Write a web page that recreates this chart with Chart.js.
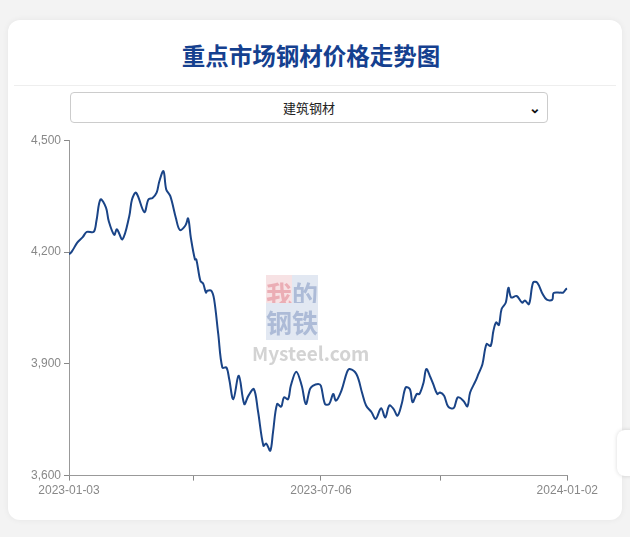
<!DOCTYPE html>
<html><head><meta charset="utf-8">
<script src="https://cdn.jsdelivr.net/npm/chart.js@4/dist/chart.umd.min.js"></script>
<style>
body{margin:0;background:#f3f3f3;font-family:"Noto Sans CJK SC","Noto Sans",sans-serif;width:630px;height:537px;overflow:hidden;position:relative}
#card{position:absolute;left:8px;top:20px;width:614px;height:500px;background:#fff;border-radius:12px;box-shadow:0 0 6px rgba(0,0,0,0.06)}
#title{position:absolute;left:0;width:606px;top:18px;text-align:center;font-size:23.5px;font-weight:bold;color:#15408f}
#sep{position:absolute;left:6px;right:6px;top:65px;border-top:1px solid #eee}
#sel{position:absolute;left:62px;top:72px;width:476px;height:29px;border:1px solid #ccc;border-radius:4px;font-size:13px;color:#222;text-align:center;line-height:29px}
#sel span{position:absolute;right:6px;top:0;font-size:14px;font-weight:bold;color:#111}
#wrap{position:absolute;left:20px;top:110px;width:573px;height:371px}
#wm{position:absolute;left:266px;top:280px;color:#ccc;font-size:26px;line-height:28px;font-weight:bold;opacity:0.85}
#side{position:absolute;left:617px;top:430px;width:20px;height:46px;background:#fff;border-radius:8px;box-shadow:0 0 4px rgba(0,0,0,0.15)}
</style></head><body>
<div id="card"><div id="title">重点市场钢材价格走势图</div><div id="sep"></div>
<div id="sel">建筑钢材<span>&#x2304;</span></div>
<div id="wrap"><canvas id="c"></canvas></div></div>
<div id="wm"><span style="color:#e8a0a8;background:#f6dde0">我</span><span style="color:#9fb0d0;background:#dde4f0">的</span><br><span style="color:#9fb0d0;background:#dde4f0">钢</span><span style="color:#9fb0d0;background:#dde4f0">铁</span><br><span style="font-size:19px;margin-left:-14px">Mysteel.com</span></div>
<div id="side"></div>
<script>
const startDate = "2023-01-03";
const days = [0,2,6,10,13,18,20,23,27,29,33,35,39,44,46,49,55,58,61,64,66,69,71,74,78,81,85,87,89,92,93,96,98,100,101,104,106,109,112,115,117,120,124,128,131,135,138,142,144,147,149,152,155,157,160,162,166,170,173,176,178,182,184,187,190,193,195,199,203,205,210,214,217,221,224,228,231,234,237,240,243,246,249,251,254,256,259,261,264,266,269,271,274,277,281,284,288,291,293,297,299,302,305,308,310,312,314,316,319,321,323,327,331,333,336,339,342,346,349,353,354,359,361,363,364];
const prices = [4194,4201,4225,4240,4254,4254,4283,4341,4319,4283,4246,4261,4234,4296,4341,4359,4307,4341,4345,4359,4390,4417,4368,4350,4292,4259,4271,4290,4238,4180,4180,4122,4115,4091,4096,4096,4073,3980,3890,3890,3859,3805,3868,3792,3814,3832,3774,3680,3686,3667,3716,3792,3785,3810,3805,3841,3879,3841,3792,3832,3841,3846,3841,3792,3792,3819,3801,3828,3877,3886,3872,3823,3788,3770,3752,3781,3756,3788,3779,3761,3792,3837,3832,3797,3819,3819,3850,3886,3864,3846,3819,3823,3814,3785,3781,3810,3801,3786,3823,3854,3872,3899,3953,3948,3988,4011,4004,4047,4064,4104,4078,4082,4064,4070,4060,4118,4118,4087,4072,4072,4090,4091,4091,4100,4102];
const xTicks = [0,91,184,271,364];
const xLabels = {0:"2023-01-03",184:"2023-07-06",364:"2024-01-02"};
const yTicks = [3600,3900,4200,4500];
new Chart(document.getElementById('c'),{
 type:'line',
 data:{datasets:[{data:days.map((d,i)=>({x:d,y:prices[i]})),borderColor:'#1a4487',borderWidth:2,pointRadius:0,tension:0.35,fill:false}]},
 options:{responsive:true,maintainAspectRatio:false,animation:false,
  layout:{padding:{left:0,right:28,top:6,bottom:0}},
  plugins:{legend:{display:false},tooltip:{enabled:false}},
  scales:{
   x:{type:'linear',min:0,max:364,afterBuildTicks:a=>{a.ticks=xTicks.map(v=>({value:v}));},
      ticks:{autoSkip:false,maxRotation:0,color:'#888',font:{size:12},callback:v=>xLabels[v]||''},
      grid:{drawOnChartArea:false,color:'#888',tickLength:5},border:{color:'#999'}},
   y:{min:3600,max:4500,afterBuildTicks:a=>{a.ticks=yTicks.map(v=>({value:v}));},
      ticks:{color:'#888',font:{size:12},callback:v=>v.toLocaleString('en-US')},
      grid:{drawOnChartArea:false,color:'#888',tickLength:5},border:{color:'#999'}}
  }}
});
</script></body></html>
